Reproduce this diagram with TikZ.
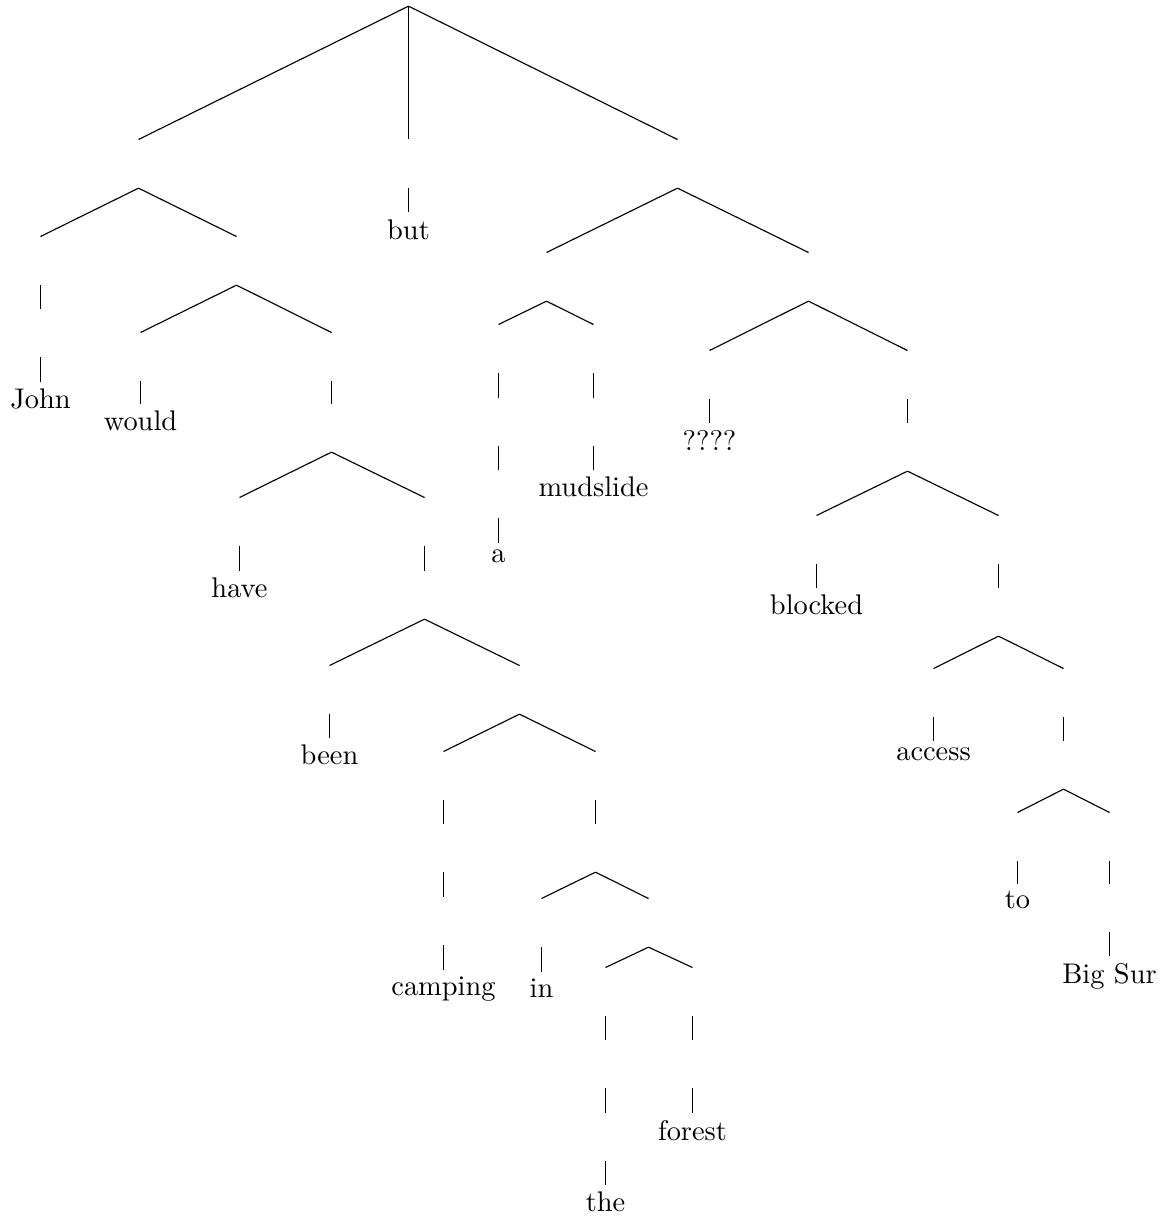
\documentclass[tikz,border=0pt]{standalone}
\begin{document}
\begin{tikzpicture}[x=0.3521pt,y=-0.3521pt,
  inode/.style={inner sep=0pt, minimum width=0pt, minimum height=16.73pt, anchor=north},
  word/.style={inner sep=2.5pt, anchor=north},
  branch/.style={line width=0.4pt}]
\useasboundingbox (-0.5,-0.5) rectangle (1170.5,1217.5);
% internal (empty) nodes
\node[inode] (R) at (408,-43) {};
\node[inode] (A) at (138,139) {};
\node[inode] (BT) at (408,139) {};
\node[inode] (B) at (677,139) {};
\node[inode] (A1) at (40,236) {};
\node[inode] (A1b) at (40,308) {};
\node[inode] (A2) at (236,236) {};
\node[inode] (A2a) at (140,332) {};
\node[inode] (A2b) at (331,332) {};
\node[inode] (A3) at (331,403) {};
\node[inode] (A3a) at (239,497) {};
\node[inode] (A3b) at (424,497) {};
\node[inode] (A4) at (424,570) {};
\node[inode] (A4a) at (329,665) {};
\node[inode] (A5) at (519,665) {};
\node[inode] (A5a) at (443,751) {};
\node[inode] (A5aa) at (443,823) {};
\node[inode] (A5ab) at (443,896) {};
\node[inode] (A5b) at (595,751) {};
\node[inode] (A6) at (595,823) {};
\node[inode] (A6a) at (541,898) {};
\node[inode] (A6b) at (648,898) {};
\node[inode] (A7a) at (605,967) {};
\node[inode] (A7aa) at (605,1039) {};
\node[inode] (A7ab) at (605,1112) {};
\node[inode] (A7b) at (692,967) {};
\node[inode] (A7ba) at (692,1039) {};
\node[inode] (B1) at (546,252) {};
\node[inode] (B1a) at (498,324) {};
\node[inode] (B1aa) at (498,397) {};
\node[inode] (B1ab) at (498,469) {};
\node[inode] (B1b) at (593,324) {};
\node[inode] (B1ba) at (593,397) {};
\node[inode] (B2) at (808,252) {};
\node[inode] (B2a) at (709,350) {};
\node[inode] (B2b) at (907,350) {};
\node[inode] (B3) at (907,422) {};
\node[inode] (B3a) at (816,515) {};
\node[inode] (B3b) at (998,515) {};
\node[inode] (B4) at (998,587) {};
\node[inode] (B4a) at (933,668) {};
\node[inode] (B4b) at (1063,668) {};
\node[inode] (B5) at (1063,740) {};
\node[inode] (B5a) at (1017,812) {};
\node[inode] (B5b) at (1109,812) {};
\node[inode] (B5ba) at (1109,883) {};
% words
\node[word] (wBut) at (408,212) {but};
\node[word] (wJohn) at (40,381) {John};
\node[word] (wWould) at (140,403) {would};
\node[word] (wHave) at (239,570) {have};
\node[word] (wBeen) at (329,737) {been};
\node[word] (wCamping) at (443,969) {camping};
\node[word] (wIn) at (541,971) {in};
\node[word] (wThe) at (605,1184) {the};
\node[word] (wForest) at (692,1112) {forest};
\node[word] (wA) at (498,542) {a};
\node[word] (wMudslide) at (593,469) {mudslide};
\node[word] (wQ) at (709,422) {????};
\node[word] (wBlocked) at (816,587) {blocked};
\node[word] (wAccess) at (933,740) {access};
\node[word] (wTo) at (1017,883) {to};
\node[word] (wBigSur) at (1109,955) {Big Sur};
% branches
\foreach \p/\c in {R/A, R/BT, R/B, BT/wBut,
  A/A1, A/A2, A1/A1b, A1b/wJohn,
  A2/A2a, A2/A2b, A2a/wWould, A2b/A3,
  A3/A3a, A3/A3b, A3a/wHave, A3b/A4,
  A4/A4a, A4/A5, A4a/wBeen,
  A5/A5a, A5/A5b, A5a/A5aa, A5aa/A5ab, A5ab/wCamping,
  A5b/A6, A6/A6a, A6/A6b, A6a/wIn,
  A6b/A7a, A6b/A7b, A7a/A7aa, A7aa/A7ab, A7ab/wThe,
  A7b/A7ba, A7ba/wForest,
  B/B1, B/B2, B1/B1a, B1/B1b, B1a/B1aa, B1aa/B1ab, B1ab/wA,
  B1b/B1ba, B1ba/wMudslide,
  B2/B2a, B2/B2b, B2a/wQ, B2b/B3,
  B3/B3a, B3/B3b, B3a/wBlocked, B3b/B4,
  B4/B4a, B4/B4b, B4a/wAccess, B4b/B5,
  B5/B5a, B5/B5b, B5a/wTo, B5b/B5ba, B5ba/wBigSur}
  \draw[branch] (\p.south) -- (\c.north);
\end{tikzpicture}
\end{document}
